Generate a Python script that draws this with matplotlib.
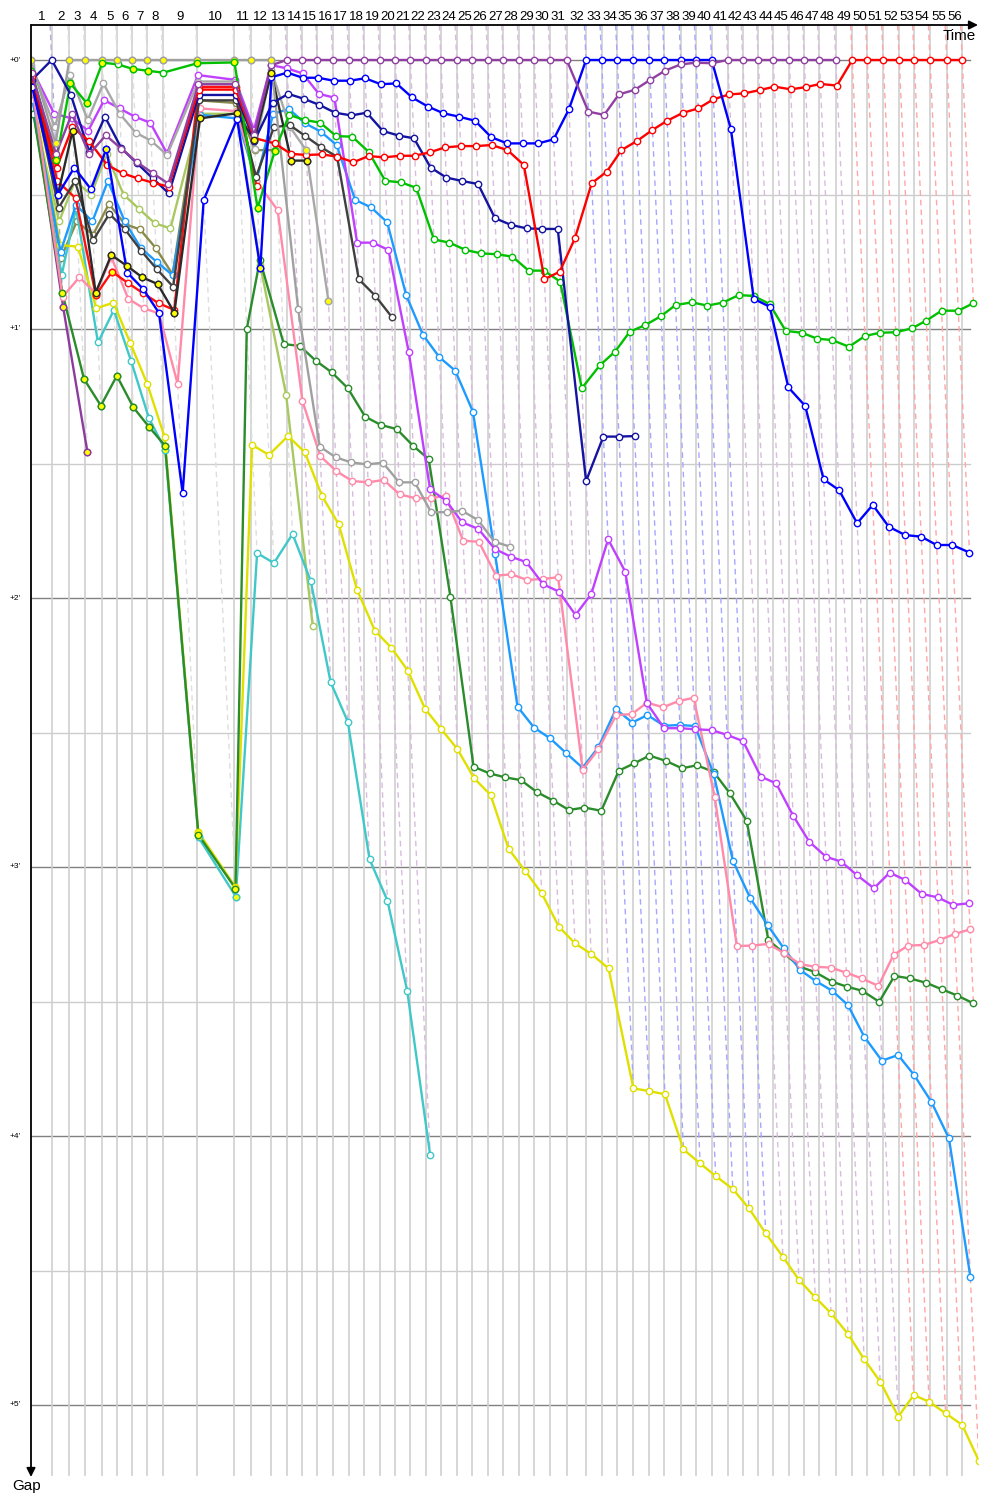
import matplotlib
matplotlib.use("Agg")
import matplotlib.pyplot as plt

# ---------------- data ----------------
# leader's race time (minutes) at the end of each lap (lap 0 = start)
LAP_TIMES = [0.00, 1.67, 3.09, 4.35, 5.75, 6.96, 8.17, 9.38, 10.62, 13.41,
             16.40, 17.72, 19.33, 20.62, 21.85, 23.09, 24.33, 25.62, 26.88, 28.12,
             29.38, 30.59, 31.83, 33.06, 34.33, 35.59, 36.83, 38.09, 39.35, 40.59,
             41.85, 43.20, 44.76, 46.02, 47.28, 48.57, 49.86, 51.07, 52.40, 53.63,
             54.89, 56.19, 57.40, 58.65, 59.86, 61.15, 62.36, 63.57, 64.90, 66.23,
             67.44, 68.73, 70.02, 71.23, 72.50, 73.85, 75.10]
LAP_LABELS = [str(i) for i in range(1, 57)]
GAP_TICKS = [0, 1, 2, 3, 4, 5]
GAP_LABELS = ["+0'", "+1'", "+2'", "+3'", "+4'", "+5'"]

# gap to leader (minutes) per lap, starting with lap 0
GREY_GAPS = [0, 0.31, 0, 0, 0, 0, 0, 0, 0, 0, 0, 0, 0,
             0.927, 1.437, 1.477, 1.496, 1.503, 1.497, 1.570, 1.570, 1.681, 1.681,
             1.675, 1.71, 1.791, 1.809]
GREY2_GAPS = [0.02, 0.25, 0.056, 0.223, 0.087, 0.20, 0.27, 0.30, 0.353, 0.08, 0.08,
              0.33, 0.037, 0.248, 0.335, 0.895]
DKGREY_GAPS = [0.08, 0.55, 0.45, 0.669, 0.572, 0.63, 0.709, 0.778, 0.843, 0.15, 0.15,
               0.434, 0.25, 0.242, 0.283, 0.325, 0.36, 0.815, 0.876, 0.954]
BLACK_GAPS = [0.07, 0.5, 0.263, 0.865, 0.725, 0.765, 0.808, 0.833, 0.939, 0.217, 0.198,
              0.297, 0.05, 0.374, 0.374]
OLIVE_GAPS = [0.15, 0.737, 0.6, 0.65, 0.535, 0.61, 0.63, 0.70, 0.797, 0.15, 0.16,
              0.335, 0.335]
LTGREEN_GAPS = [0.2, 0.6, 0.45, 0.5, 0.35, 0.5, 0.554, 0.607, 0.626, 0.2, 0.2,
                0.762, 1.245, 2.104]
DKPURPLE_GAPS = [0.15, 0.917, 1.457]
RED2_GAPS = [0.05, 0.45, 0.514, 0.874, 0.787, 0.828, 0.867, 0.904, 0.929, 0.10, 0.10, 0.47]
TEAL_GAPS = [0.20, 0.80, 0.55, 1.05, 0.93, 1.12, 1.33, 1.45, 2.89, 3.11, 1.833, 1.87,
             1.762, 1.936, 2.313, 2.46, 2.971, 3.125, 3.461, 4.071]
PURPLE_GAPS = ([0.05, 0.35, 0.20, 0.35, 0.28, 0.33, 0.38, 0.42, 0.46, 0.09, 0.09, 0.28, 0.02]
               + [0] * 19
               + [0.192, 0.204, 0.128, 0.111, 0.074, 0.040, 0.016, 0.010, 0.012]
               + [0] * 8)
BLUE_GAPS = ([0.10, 0.50, 0.40, 0.48, 0.33, 0.79, 0.85, 0.94, 1.61, 0.52, 0.22, 0.774, 0.064,
              0.047, 0.066, 0.066, 0.077, 0.077, 0.068, 0.090, 0.087, 0.139, 0.173, 0.198,
              0.211, 0.226, 0.287, 0.310, 0.310, 0.310, 0.295, 0.183]
             + [0] * 9
             + [0.258, 0.888, 0.917, 1.217, 1.286, 1.559, 1.599, 1.722, 1.654, 1.735,
                1.766, 1.772, 1.803, 1.803, 1.831])
RED_GAPS = ([0.06, 0.40, 0.25, 0.30, 0.39, 0.421, 0.44, 0.456, 0.471, 0.11, 0.11, 0.29, 0.31,
             0.349, 0.353, 0.351, 0.359, 0.380, 0.357, 0.362, 0.356, 0.356, 0.343, 0.325,
             0.320, 0.320, 0.316, 0.335, 0.39, 0.815, 0.787, 0.663,
             0.458, 0.415, 0.335, 0.301, 0.260, 0.226, 0.196, 0.180, 0.146, 0.128, 0.124,
             0.112, 0.099, 0.109, 0.101, 0.089, 0.095]
            + [0] * 8)
NAVY_GAPS = [0.074, 0.0, 0.13, 0.341, 0.211, 0.328, 0.384, 0.44, 0.496, 0.13, 0.13, 0.30, 0.159,
             0.126, 0.144, 0.167, 0.196, 0.206, 0.196, 0.264, 0.281, 0.291, 0.40, 0.437,
             0.45, 0.461, 0.588, 0.613, 0.626, 0.628, 0.628, 1.565,
             1.40, 1.40, 1.398]
GREEN_GAPS = [0.04, 0.372, 0.087, 0.161, 0.01, 0.016, 0.033, 0.04, 0.047, 0.012, 0.009, 0.551,
              0.337, 0.204, 0.223, 0.233, 0.283, 0.285, 0.341, 0.449, 0.455, 0.475, 0.667,
              0.679, 0.706, 0.719, 0.722, 0.731, 0.783, 0.783, 0.824, 1.22,
              1.134, 1.084, 1.01, 0.985, 0.952, 0.911, 0.901, 0.913, 0.902, 0.874, 0.877,
              0.907, 1.007, 1.014, 1.036, 1.041, 1.066, 1.026, 1.014, 1.012, 0.998, 0.969,
              0.932, 0.932, 0.904]
DKGREEN_GAPS = [0.20, 0.867, 1.186, 1.285, 1.174, 1.291, 1.365, 1.434, 2.88, 3.08, 1.00, 0.743,
                1.056, 1.063, 1.118, 1.161, 1.22, 1.326, 1.357, 1.372, 1.434, 1.484, 1.997,
                2.627, 2.652, 2.667, 2.677, 2.722, 2.753, 2.788, 2.779, 2.791,
                2.642, 2.615, 2.586, 2.605, 2.633, 2.622, 2.646, 2.726, 2.828, 3.271, 3.321,
                3.371, 3.391, 3.426, 3.445, 3.46, 3.501, 3.405, 3.414, 3.43, 3.455, 3.478, 3.507]
LTBLUE_GAPS = [0.15, 0.713, 0.539, 0.60, 0.45, 0.60, 0.70, 0.75, 0.80, 0.204, 0.217, 0.45, 0.20,
               0.182, 0.235, 0.266, 0.316, 0.52, 0.548, 0.603, 0.874, 1.022, 1.105, 1.155,
               1.307, 1.836, 2.404, 2.482, 2.522, 2.577, 2.631, 2.555,
               2.413, 2.463, 2.435, 2.475, 2.472, 2.476, 2.654, 2.977, 3.116, 3.216, 3.302,
               3.383, 3.424, 3.46, 3.513, 3.631, 3.72, 3.699, 3.773, 3.872, 4.009, 4.523]
VIOLET_GAPS = [0.03, 0.20, 0.217, 0.263, 0.149, 0.18, 0.211, 0.233, 0.347, 0.056, 0.074, 0.26,
               0.019, 0.031, 0.05, 0.126, 0.14, 0.679, 0.679, 0.706, 1.087, 1.596, 1.638,
               1.719, 1.743, 1.818, 1.846, 1.867, 1.949, 1.976, 2.063, 1.985,
               1.782, 1.902, 2.391, 2.484, 2.484, 2.488, 2.491, 2.509, 2.532, 2.664, 2.689,
               2.809, 2.906, 2.962, 2.98, 3.03, 3.079, 3.021, 3.048, 3.1, 3.113, 3.141, 3.135]
PINK_GAPS = [0.10, 0.88, 0.808, 0.867, 0.733, 0.888, 0.923, 0.942, 1.204, 0.18, 0.19, 0.45,
             0.558, 1.267, 1.472, 1.528, 1.565, 1.570, 1.561, 1.615, 1.629, 1.629, 1.62,
             1.787, 1.791, 1.917, 1.912, 1.933, 1.929, 1.923, 2.639, 2.562,
             2.435, 2.432, 2.389, 2.406, 2.383, 2.371, 2.741, 3.294, 3.292, 3.286, 3.32,
             3.361, 3.371, 3.374, 3.393, 3.414, 3.442, 3.327, 3.292, 3.29, 3.271, 3.249, 3.232]
YELLOW_GAPS = [0.12, 0.688, 0.694, 0.923, 0.902, 1.053, 1.204, 1.403, 2.87, 3.074, 1.431,
               1.468, 1.398, 1.458, 1.621, 1.726, 1.97, 2.122, 2.185, 2.27, 2.413, 2.487,
               2.562, 2.67, 2.732, 2.933, 3.014, 3.098, 3.222, 3.284, 3.323, 3.377,
               3.823, 3.833, 3.845, 4.05, 4.102, 4.149, 4.197, 4.269, 4.362, 4.449, 4.535,
               4.6, 4.659, 4.736, 4.83, 4.913, 5.043, 4.963, 4.988, 5.031, 5.074, 5.207]

# laps on which a car's marker is filled yellow
GREY_YLAPS = list(range(0, 13))
GREEN_YLAPS = [1, 2, 3, 4, 6, 7, 9, 10, 11, 12]
DKGREEN_YLAPS = [1, 2, 3, 4, 5, 6, 7, 8, 9]
BLACK_YLAPS = list(range(2, 15))
BLUE_YLAPS = [4, 11]
DKPURPLE_YLAPS = [1, 2]
YELLOW_YLAPS = [8, 9]
TEAL_YLAPS = [7, 8, 9]
GREY2_YLAPS = [14, 15]
RED2_YLAPS = [3, 4]

CARS = [
    ("#8e3a9e", DKPURPLE_GAPS, DKPURPLE_YLAPS),
    ("#a8c860", LTGREEN_GAPS, []),
    ("#8a8a4a", OLIVE_GAPS, []),
    ("#40c8c8", TEAL_GAPS, TEAL_YLAPS),
    ("#e0e000", YELLOW_GAPS, YELLOW_YLAPS),
    ("#2a8c2a", DKGREEN_GAPS, DKGREEN_YLAPS),
    ("#1e9bff", LTBLUE_GAPS, []),
    ("#ff8aaa", PINK_GAPS, []),
    ("#c040ff", VIOLET_GAPS, []),
    ("#a8a8a8", GREY2_GAPS, GREY2_YLAPS),
    ("#ff1010", RED2_GAPS, RED2_YLAPS),
    ("#404040", DKGREY_GAPS, []),
    ("#2a2a2a", BLACK_GAPS, BLACK_YLAPS),
    ("#a0a0a0", GREY_GAPS, GREY_YLAPS),
    ("#00c000", GREEN_GAPS, GREEN_YLAPS),
    ("#1414a0", NAVY_GAPS, []),
    ("#ff0000", RED_GAPS, []),
    ("#0000ff", BLUE_GAPS, BLUE_YLAPS),
    ("#9040a0", PURPLE_GAPS, []),
]

# ---------------- layout ----------------
W_PX, H_PX = 1000, 1500
LEFT_PX, RIGHT_PX, TOP_PX, BOT_PX = 31, 978, 25, 1477
ZERO_PX = 60          # y pixel of +0'
PX_PER_MIN_Y = 269.0
PX_PER_MIN_X = 12.4

x_max = (RIGHT_PX - LEFT_PX) / PX_PER_MIN_X
y_top = (TOP_PX - ZERO_PX) / PX_PER_MIN_Y
y_bot = (BOT_PX - ZERO_PX) / PX_PER_MIN_Y
grid_end = (970 - LEFT_PX) / PX_PER_MIN_X
vline_end = (1475 - ZERO_PX) / PX_PER_MIN_Y

fig = plt.figure(figsize=(W_PX / 100, H_PX / 100), dpi=100)
ax = fig.add_axes([LEFT_PX / W_PX, 1 - BOT_PX / H_PX,
                   (RIGHT_PX - LEFT_PX) / W_PX, (BOT_PX - TOP_PX) / H_PX])
ax.set_xlim(0, x_max)
ax.set_ylim(y_bot, y_top)
ax.axis("off")


def lighten(c, f=0.65):
    r, g, b = matplotlib.colors.to_rgb(c)
    return (r + (1 - r) * f, g + (1 - g) * f, b + (1 - b) * f)


# horizontal grid
for m in GAP_TICKS:
    ax.plot([0, grid_end], [m, m], color="#808080", lw=1.0, zorder=1)
    if m + 0.5 < y_bot:
        ax.plot([0, grid_end], [m + 0.5, m + 0.5], color="#cccccc", lw=1.0, zorder=1)
for m, lab in zip(GAP_TICKS, GAP_LABELS):
    ax.text(-16 / PX_PER_MIN_X, m, lab, fontsize=6, ha="center", va="center",
            family="Liberation Sans", clip_on=False)

# vertical lap lines (leader's lap times)
for t in LAP_TIMES[1:]:
    ax.plot([t, t], [y_top, vline_end], color="#cfcfcf", lw=1.2, zorder=1)

# dashed lap lines through all cars that completed the lap
n_laps = len(LAP_TIMES) - 1
for k in range(1, n_laps + 1):
    gaps_k = [(g[k], col) for col, g, _ in CARS if len(g) > k]
    if not gaps_k:
        continue
    gmax = max(v for v, _ in gaps_k)
    lead_col = min(gaps_k, key=lambda p: p[0])[1]
    t = LAP_TIMES[k]
    ax.plot([t + y_top, t + gmax], [y_top, gmax], color=lighten(lead_col), lw=1.0,
            ls=(0, (4, 3)), zorder=2)

# car traces
for col, gaps, ylaps in CARS:
    xs = [LAP_TIMES[k] + g for k, g in enumerate(gaps)]
    ax.plot(xs, gaps, color=col, lw=1.7, zorder=3, marker="o", ms=4.6, mfc="white",
            mec=col, mew=1.0, solid_joinstyle="round")
    yx = [xs[k] for k in ylaps if k < len(gaps)]
    yy = [gaps[k] for k in ylaps if k < len(gaps)]
    ax.plot(yx, yy, ls="none", marker="o", ms=4.6, mfc="#ffff00", mec=col, mew=1.0,
            zorder=3.5)

# lap numbers on top
for k in range(1, n_laps + 1):
    xc = (LAP_TIMES[k - 1] + LAP_TIMES[k]) / 2
    ax.text(xc, (17 - ZERO_PX) / PX_PER_MIN_Y, LAP_LABELS[k - 1], fontsize=9.5,
            ha="center", va="center", family="Liberation Sans", clip_on=False)

# axes arrows
ax.annotate("", xy=(x_max, y_top), xytext=(0, y_top),
            arrowprops=dict(arrowstyle="-|>", color="black", lw=1.3, mutation_scale=13,
                            shrinkA=0, shrinkB=0), annotation_clip=False, zorder=5)
ax.annotate("", xy=(0, y_bot), xytext=(0, y_top),
            arrowprops=dict(arrowstyle="-|>", color="black", lw=1.3, mutation_scale=13,
                            shrinkA=0, shrinkB=0), annotation_clip=False, zorder=5)
ax.text((943 - LEFT_PX) / PX_PER_MIN_X, (36 - ZERO_PX) / PX_PER_MIN_Y, "Time",
        fontsize=11, ha="left", va="center", family="Liberation Sans", clip_on=False)
ax.text((12 - LEFT_PX) / PX_PER_MIN_X, (1486 - ZERO_PX) / PX_PER_MIN_Y, "Gap",
        fontsize=11, ha="left", va="center", family="Liberation Sans", clip_on=False)

fig.savefig("out.png", dpi=100)
